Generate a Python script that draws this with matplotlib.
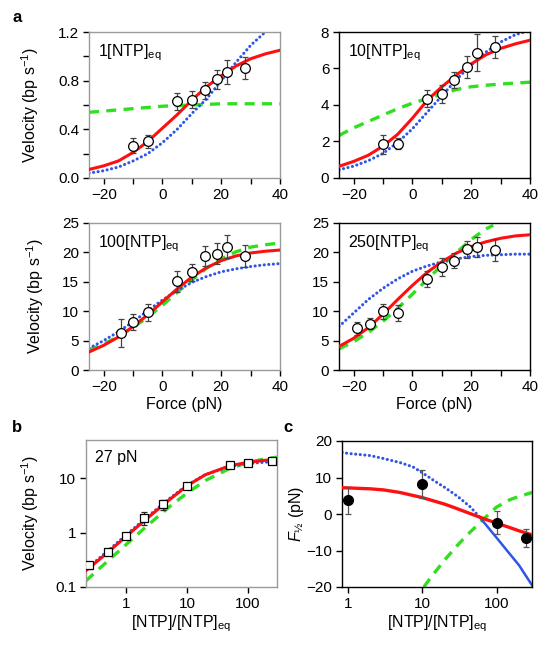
"""
Force-velocity fits at several NTP levels (panels a, b, c)
"""

import matplotlib.pyplot as plt
import numpy as np
from matplotlib.ticker import MultipleLocator, FixedLocator, NullLocator

plt.rcParams['font.family'] = ['Liberation Sans', 'DejaVu Sans']
plt.rcParams['mathtext.fontset'] = 'custom'
plt.rcParams['mathtext.rm'] = 'Liberation Sans'
plt.rcParams['mathtext.it'] = 'Liberation Sans:italic'
plt.rcParams['font.size'] = 10

RED = '#ff1010'
BLUE = '#2f55e6'
GREEN = '#30e020'
DOTS = (0, (0.05, 1.45))

############ Panel a data ############
force_fit = [-25, -20, -15, -10, -5, 0, 5, 10, 15, 20, 25, 30, 35, 40]

# 1[NTP]eq
f1 = [-10, -5, 5, 10, 14.5, 18.5, 22, 28]
v1 = [0.265, 0.30, 0.63, 0.645, 0.72, 0.81, 0.87, 0.905]
e1 = [0.06, 0.05, 0.07, 0.07, 0.07, 0.08, 0.10, 0.09]
red1 = [0.07, 0.10, 0.14, 0.21, 0.30, 0.41, 0.52, 0.64, 0.75, 0.84, 0.92, 0.98, 1.02, 1.05]
blue1_f = [-25, -20, -15, -10, -5, 0, 5, 10, 15, 20, 25, 30, 35]
blue1 = [0.04, 0.06, 0.09, 0.14, 0.20, 0.29, 0.40, 0.53, 0.65, 0.80, 0.95, 1.09, 1.20]
green1 = [0.54, 0.55, 0.56, 0.57, 0.58, 0.59, 0.595, 0.60, 0.605, 0.61, 0.61, 0.61, 0.61, 0.61]

# 10[NTP]eq
f10 = [-10, -5, 5, 10, 14, 18.5, 22, 28]
v10 = [1.84, 1.88, 4.35, 4.6, 5.37, 6.1, 6.87, 7.2]
e10 = [0.5, 0.3, 0.45, 0.5, 0.45, 0.6, 1.0, 0.6]
red10 = [0.64, 0.91, 1.25, 1.75, 2.4, 3.28, 4.25, 5.0, 5.65, 6.25, 6.75, 7.1, 7.35, 7.55]
blue10_f = [-25, -20, -15, -10, -5, 0, 5, 10, 15, 20, 25, 30, 35, 38]
blue10 = [0.45, 0.65, 0.95, 1.35, 1.95, 2.7, 3.6, 4.5, 5.4, 6.2, 6.9, 7.45, 7.85, 8.0]
green10 = [2.33, 2.75, 3.1, 3.45, 3.8, 4.1, 4.35, 4.6, 4.85, 5.0, 5.08, 5.15, 5.2, 5.25]

# 100[NTP]eq
f100 = [-14.2, -10, -5, 5, 10, 14.5, 18.5, 22, 28]
v100 = [6.3, 8.15, 9.8, 15.1, 16.6, 19.4, 19.8, 21.0, 19.4]
e100 = [2.4, 1.3, 1.5, 1.8, 1.4, 1.7, 1.8, 2.0, 1.9]
red100 = [3.06, 4.2, 5.6, 7.4, 9.4, 11.6, 13.8, 15.8, 17.4, 18.6, 19.4, 19.9, 20.2, 20.4]
blue100 = [3.7, 5.0, 6.5, 8.2, 10.1, 11.9, 13.5, 14.9, 15.9, 16.7, 17.2, 17.6, 17.9, 18.1]
green100 = [3.4, 4.4, 5.7, 7.2, 9.0, 11.0, 13.2, 15.3, 17.3, 18.9, 20.1, 20.9, 21.3, 21.6]

# 250[NTP]eq
f250 = [-18.8, -14.6, -10, -5, 5, 10, 14, 18.5, 22, 28]
v250 = [7.1, 7.9, 10.0, 9.7, 15.5, 17.5, 18.6, 20.5, 21.0, 20.4]
e250 = [1.1, 1.0, 1.3, 1.4, 1.4, 1.5, 1.3, 1.4, 1.7, 1.9]
red250 = [4.0, 5.4, 7.2, 9.5, 12.0, 14.4, 16.6, 18.4, 19.9, 21.0, 21.8, 22.4, 22.8, 23.0]
blue250 = [7.4, 9.7, 12.0, 13.9, 15.5, 16.8, 17.7, 18.4, 18.9, 19.3, 19.5, 19.6, 19.7, 19.7]
green250_f = [-25, -20, -15, -10, -5, 0, 5, 10, 15, 20, 25, 27.5]
green250 = [3.6, 4.8, 6.4, 8.3, 10.5, 12.9, 15.4, 17.8, 20.0, 22.2, 24.0, 24.6]

############ Panel b data (27 pN) ############
ntp_b = [0.25, 0.5, 1, 2, 4, 10, 50, 100, 250]
vel_b = [0.25, 0.44, 0.86, 1.88, 3.3, 7.3, 17.1, 18.8, 20.2]
vel_b_lo = [0.21, 0.40, 0.80, 1.40, 2.6, 6.9, 15.8, 17.6, 19.0]
vel_b_hi = [0.29, 0.48, 0.92, 2.40, 4.0, 7.7, 18.4, 20.0, 21.4]
ntp_fit_b = [0.22, 0.5, 1, 2, 5, 10, 20, 50, 100, 200, 300]
red_b = [0.20, 0.43, 0.85, 1.65, 3.9, 7.2, 11.5, 16.8, 19.5, 21.3, 22.0]
blue_b = [0.21, 0.46, 0.90, 1.75, 4.1, 7.4, 11.6, 16.2, 18.5, 19.6, 19.9]
green_b = [0.13, 0.30, 0.60, 1.20, 2.9, 5.3, 9.0, 15.0, 19.3, 22.8, 24.2]

############ Panel c data (F1/2) ############
ntp_c = [1, 10, 100, 250]
fhalf_c = [3.7, 8.2, -2.5, -6.6]
fhalf_lo = [0.0, 4.3, -5.6, -9.0]
fhalf_hi = [7.3, 12.0, 0.8, -4.0]
ntp_fit_c = [0.83, 1, 2, 3, 5, 10, 20, 30, 50, 70, 100, 150, 200, 300]
red_c = [7.2, 7.15, 6.9, 6.6, 5.9, 4.5, 2.7, 1.4, -0.3, -1.4, -2.5, -3.7, -4.6, -5.7]
blue_c_ntp = [0.83, 1, 2, 3, 5, 7.5, 10, 15, 20, 30, 44, 60]
blue_c = [16.9, 16.6, 16.0, 15.2, 14.1, 12.9, 11.3, 8.9, 7.3, 4.8, 2.0, -1.0]
blue_c2_ntp = [60, 100, 150, 200, 300]
blue_c2 = [-1.0, -6.5, -10.9, -14.0, -19.5]
green_c_ntp = [10.5, 13, 15, 20, 30, 40, 50, 70, 100, 150, 200, 300]
green_c = [-20, -17.4, -15.8, -12.6, -8.5, -5.8, -3.9, -1.0, 1.9, 3.9, 4.8, 5.9]

W, H = 548, 647
fig = plt.figure(figsize=(W / 100, H / 100), dpi=100)


def px_axes(x0, y0, x1, y1):
    return fig.add_axes([x0 / W, 1 - y1 / H, (x1 - x0) / W, (y1 - y0) / H])


def style(ax, spine_col='black'):
    for s in ax.spines.values():
        s.set_color(spine_col)
        s.set_linewidth(1.0)
    ax.tick_params(which='both', direction='out', length=4, width=1, labelsize=11, pad=3)


def curves(ax, fr, r, fb, b, fg, g):
    ax.plot(fg, g, color=GREEN, lw=2.4, dashes=(3, 2.2), zorder=2)
    ax.plot(fb, b, color=BLUE, lw=2.2, ls=DOTS, dash_capstyle='round', zorder=2)
    ax.plot(fr, r, color=RED, lw=2.2, zorder=3)


def points(ax, x, y, e):
    ax.errorbar(x, y, yerr=e, fmt='o', ms=7, mfc='white', mec='black', mew=0.9,
                ecolor='#444444', elinewidth=0.9, capsize=2.5, capthick=0.9, zorder=5)


panels_a = [
    (89, 32, 280, 178, '1[NTP]$_{\\rm eq}$', f1, v1, e1, red1, blue1_f, blue1, force_fit, green1,
     (0, 1.2), FixedLocator([0, 0.4, 0.8, 1.2]), FixedLocator([0.2, 0.6, 1.0]), '#9a9a9a'),
    (339, 32, 530, 178, '10[NTP]$_{\\rm eq}$', f10, v10, e10, red10, blue10_f, blue10, force_fit, green10,
     (0, 8), MultipleLocator(2), NullLocator(), 'black'),
    (89, 223, 280, 370, '100[NTP]$_{\\rm eq}$', f100, v100, e100, red100, force_fit, blue100, force_fit, green100,
     (0, 25), MultipleLocator(5), NullLocator(), '#9a9a9a'),
    (339, 223, 530, 370, '250[NTP]$_{\\rm eq}$', f250, v250, e250, red250, force_fit, blue250, green250_f, green250,
     (0, 25), MultipleLocator(5), NullLocator(), 'black'),
]

for i, (x0, y0, x1, y1, lab, fx, vy, ey, rr, fb, bb, fg, gg, ylim, maj, mnr, sc) in enumerate(panels_a):
    ax = px_axes(x0, y0, x1, y1)
    style(ax, sc)
    curves(ax, force_fit, rr, fb, bb, fg, gg)
    points(ax, fx, vy, ey)
    ax.set_xlim(-25, 40)
    ax.set_ylim(*ylim)
    ax.xaxis.set_major_locator(MultipleLocator(20))
    ax.xaxis.set_minor_locator(MultipleLocator(10))
    ax.yaxis.set_major_locator(maj)
    ax.yaxis.set_minor_locator(mnr)
    ax.text(0.045, 0.93, lab, transform=ax.transAxes, ha='left', va='top', fontsize=11.5)
    if i % 2 == 0:
        ax.set_ylabel('Velocity (bp s$^{-1}$)', fontsize=11.5, labelpad=12)
    if i >= 2:
        ax.set_xlabel('Force (pN)', fontsize=11.5, labelpad=2)

############ Panel b ############
axb = px_axes(86, 440, 277, 587)
style(axb, '#9a9a9a')
axb.set_xscale('log')
axb.set_yscale('log')
curves(axb, ntp_fit_b, red_b, ntp_fit_b, blue_b, ntp_fit_b, green_b)
axb.errorbar(ntp_b, vel_b,
             yerr=[np.subtract(vel_b, vel_b_lo), np.subtract(vel_b_hi, vel_b)],
             fmt='s', ms=5.5, mfc='white', mec='black', mew=0.9,
             ecolor='#222222', elinewidth=0.9, capsize=2.5, capthick=0.9, zorder=5)
axb.set_xlim(0.22, 300)
axb.set_ylim(0.1, 50)
axb.xaxis.set_major_locator(FixedLocator([1, 10, 100]))
axb.xaxis.set_minor_locator(NullLocator())
axb.yaxis.set_major_locator(FixedLocator([0.1, 1, 10]))
axb.yaxis.set_minor_locator(NullLocator())
axb.set_xticklabels(['1', '10', '100'])
axb.set_yticklabels(['0.1', '1', '10'])
axb.text(0.045, 0.93, '27 pN', transform=axb.transAxes, ha='left', va='top', fontsize=11.5)
axb.set_ylabel('Velocity (bp s$^{-1}$)', fontsize=11.5, labelpad=10)
axb.set_xlabel('[NTP]/[NTP]$_{\\rm eq}$', fontsize=11.5, labelpad=2)

############ Panel c ############
axc = px_axes(342, 441, 532, 587)
style(axc, 'black')
axc.set_xscale('log')
axc.plot(green_c_ntp, green_c, color=GREEN, lw=2.4, dashes=(3, 2.2), zorder=2)
axc.plot(blue_c_ntp, blue_c, color=BLUE, lw=2.2, ls=DOTS, dash_capstyle='round', zorder=2)
axc.plot(blue_c2_ntp, blue_c2, color=BLUE, lw=1.8, zorder=2)
axc.plot(ntp_fit_c, red_c, color=RED, lw=2.4, zorder=3)
axc.errorbar(ntp_c, fhalf_c,
             yerr=[np.subtract(fhalf_c, fhalf_lo), np.subtract(fhalf_hi, fhalf_c)],
             fmt='o', ms=7, mfc='black', mec='black',
             ecolor='#555555', elinewidth=0.9, capsize=2.5, capthick=0.9, zorder=5)
axc.set_xlim(0.83, 300)
axc.set_ylim(-20, 20)
axc.xaxis.set_major_locator(FixedLocator([1, 10, 100]))
axc.xaxis.set_minor_locator(NullLocator())
axc.set_xticklabels(['1', '10', '100'])
axc.set_yticks([-20, -10, 0, 10, 20])
axc.set_yticklabels(['\u221220', '\u221210', '0', '10', '20'])
axc.set_ylabel('$\\it{F}$$_{\u00bd}$ (pN)', fontsize=11.5, labelpad=0)
axc.set_xlabel('[NTP]/[NTP]$_{\\rm eq}$', fontsize=11.5, labelpad=2)

for lbl, x, y in [('a', 17, 17), ('b', 17, 428), ('c', 288, 428)]:
    fig.text(x / W, 1 - y / H, lbl, fontsize=12, fontweight='bold', ha='center', va='center')

plt.savefig('out.png', dpi=100)
